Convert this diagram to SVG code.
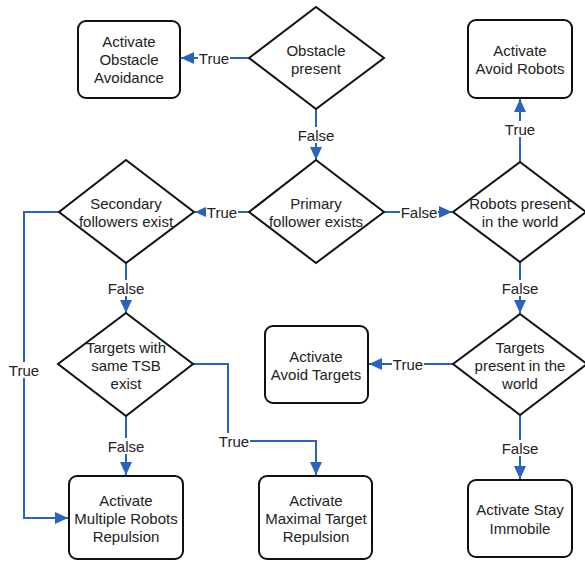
<svg xmlns="http://www.w3.org/2000/svg" width="585" height="562" viewBox="0 0 585 562">
<style>
.box{fill:#fff;stroke:#111;stroke-width:2}
.dia{fill:#fff;stroke:#111;stroke-width:2}
.t{font-family:"Liberation Sans",Arial,sans-serif;font-size:15px;fill:#222;text-anchor:middle;dominant-baseline:central}
.c{fill:none;stroke:#2a62c0;stroke-width:2}
.lbg{fill:#fff}
</style>
<defs>
<marker id="ah" markerUnits="userSpaceOnUse" markerWidth="14" markerHeight="12" refX="13" refY="6" orient="auto">
<path d="M0,0 L13,6 L0,12 Z" fill="#2a62c0"/>
</marker>
</defs>
<rect width="585" height="562" fill="#fff"/>
<g id="connectors">
<path class="c" d="M249,58 H181" marker-end="url(#ah)"/>
<path class="c" d="M316,109 V160" marker-end="url(#ah)"/>
<path class="c" d="M249,212 H195" marker-end="url(#ah)"/>
<path class="c" d="M384,212 H452" marker-end="url(#ah)"/>
<path class="c" d="M520,162 V99" marker-end="url(#ah)"/>
<path class="c" d="M520,262 V313" marker-end="url(#ah)"/>
<path class="c" d="M453,364 H369" marker-end="url(#ah)"/>
<path class="c" d="M520,415 V479" marker-end="url(#ah)"/>
<path class="c" d="M126,263 V313" marker-end="url(#ah)"/>
<path class="c" d="M59,212 H24 V518 H68" marker-end="url(#ah)"/>
<path class="c" d="M126,416 V475" marker-end="url(#ah)"/>
<path class="c" d="M193,364 H228 V441 H316 V475" marker-end="url(#ah)"/>
<g id="labels">
<rect class="lbg" x="198" y="50" width="32" height="16"/><text class="t" x="214" y="58">True</text>
<rect class="lbg" x="297" y="127" width="38" height="16"/><text class="t" x="316" y="135">False</text>
<rect class="lbg" x="206" y="204" width="32" height="16"/><text class="t" x="222" y="212">True</text>
<rect class="lbg" x="400" y="204" width="38" height="16"/><text class="t" x="419" y="212">False</text>
<rect class="lbg" x="504" y="121" width="32" height="16"/><text class="t" x="520" y="129">True</text>
<rect class="lbg" x="501" y="280" width="38" height="16"/><text class="t" x="520" y="288">False</text>
<rect class="lbg" x="392" y="356" width="32" height="16"/><text class="t" x="408" y="364">True</text>
<rect class="lbg" x="501" y="440" width="38" height="16"/><text class="t" x="520" y="448">False</text>
<rect class="lbg" x="107" y="280" width="38" height="16"/><text class="t" x="126" y="288">False</text>
<rect class="lbg" x="8" y="362" width="32" height="16"/><text class="t" x="24" y="370">True</text>
<rect class="lbg" x="107" y="438" width="38" height="16"/><text class="t" x="126" y="446">False</text>
<rect class="lbg" x="218" y="433" width="32" height="16"/><text class="t" x="234" y="441">True</text>
</g>
</g>
<g id="n-obstacle-avoidance">
<rect class="box" x="78" y="21" width="102" height="77" rx="8"/>
<text class="t" x="129" y="41">Activate</text><text class="t" x="129" y="59">Obstacle</text><text class="t" x="129" y="77">Avoidance</text>
</g>
<g id="n-obstacle-present">
<polygon class="dia" points="316,7 384,58 316,109 249,58"/>
<text class="t" x="316" y="50">Obstacle</text><text class="t" x="316" y="68">present</text>
</g>
<g id="n-avoid-robots">
<rect class="box" x="468" y="20" width="104" height="78" rx="8"/>
<text class="t" x="520" y="50">Activate</text><text class="t" x="520" y="68">Avoid Robots</text>
</g>
<g id="n-primary">
<polygon class="dia" points="316,160 384,212 316,263 249,212"/>
<text class="t" x="316" y="203">Primary</text><text class="t" x="316" y="221">follower exists</text>
</g>
<g id="n-secondary">
<polygon class="dia" points="126,160 194,212 126,263 59,212"/>
<text class="t" x="126" y="203">Secondary</text><text class="t" x="126" y="221">followers exist</text>
</g>
<g id="n-robots-present">
<polygon class="dia" points="520,162 586,212 520,262 453,212"/>
<text class="t" x="520" y="203">Robots present</text><text class="t" x="520" y="221">in the world</text>
</g>
<g id="n-targets-tsb">
<polygon class="dia" points="126,313 193,364 126,416 58,364"/>
<text class="t" x="126" y="347">Targets with</text><text class="t" x="126" y="365">same TSB</text><text class="t" x="126" y="383">exist</text>
</g>
<g id="n-avoid-targets">
<rect class="box" x="265" y="326" width="103" height="77" rx="8"/>
<text class="t" x="316" y="356">Activate</text><text class="t" x="316" y="374">Avoid Targets</text>
</g>
<g id="n-targets-present">
<polygon class="dia" points="520,314 587,364 520,415 453,364"/>
<text class="t" x="520" y="347">Targets</text><text class="t" x="520" y="365">present in the</text><text class="t" x="520" y="383">world</text>
</g>
<g id="n-multiple-robots">
<rect class="box" x="69" y="476" width="114" height="83" rx="8"/>
<text class="t" x="126" y="500">Activate</text><text class="t" x="126" y="518">Multiple Robots</text><text class="t" x="126" y="536">Repulsion</text>
</g>
<g id="n-maximal-target">
<rect class="box" x="259" y="476" width="113" height="83" rx="8"/>
<text class="t" x="316" y="500">Activate</text><text class="t" x="316" y="518">Maximal Target</text><text class="t" x="316" y="536">Repulsion</text>
</g>
<g id="n-stay-immobile">
<rect class="box" x="468" y="480" width="104" height="77" rx="8"/>
<text class="t" x="520" y="509">Activate Stay</text><text class="t" x="520" y="528">Immobile</text>
</g>
</svg>
